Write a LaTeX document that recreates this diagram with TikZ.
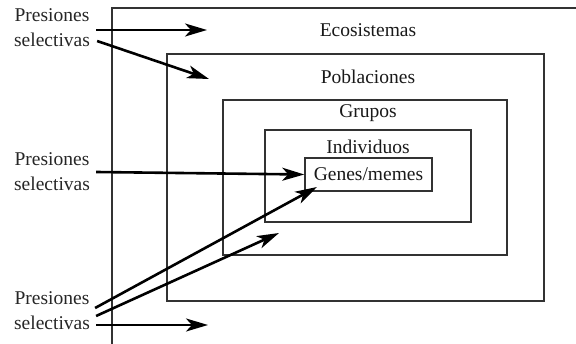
\documentclass[tikz,border=0pt]{standalone}
\usepackage{fontspec}
\setmainfont{Liberation Serif}
\usetikzlibrary{positioning,calc}
\usetikzlibrary{arrows.meta}
\definecolor{BoxGray}{RGB}{50,50,50}
\tikzset{
	caja/.style={draw=BoxGray,line width=1.5pt,rectangle,inner sep=0pt},
	nivel/.style={font=\fontsize{19.5}{24}\selectfont,inner sep=0pt,text=black!90},
	presion/.style={font=\fontsize{19.5}{25}\selectfont,align=center,inner sep=0pt,text=black!85},
	flecha/.style={draw=black,line width=2.6pt,-{Stealth[length=22pt,width=13pt,inset=6pt]}},
}
\begin{document}
\begin{tikzpicture}[x=1pt,y=-1pt]
	\useasboundingbox (0,0) rectangle (576,344);
	% niveles anidados
	\draw[caja] (112,344) -- (112,8) -- (576,8);
	\draw[caja] (167,54) rectangle (544,301);
	\draw[caja] (223,100) rectangle (507,255);
	\draw[caja] (265,130) rectangle (471,222);
	\node[caja,nivel,minimum width=127pt,minimum height=33pt] (genes) at (368.5,174.5) {Genes/memes};
	\node[nivel] (eco) at (368,30) {Ecosistemas};
	\node[nivel] (pobl) at (368,77) {Poblaciones};
	\node[nivel] (grup) at (368,113) {Grupos};
	\node[nivel] (indiv) at (368,147) {Individuos};
	% presiones selectivas
	\node[presion] (ps1) at (52,28) {Presiones\\selectivas};
	\node[presion] (ps2) at (52,172) {Presiones\\selectivas};
	\node[presion] (ps3) at (52,311) {Presiones\\selectivas};
	\coordinate (e1) at (207,30);
	\coordinate (e2) at (209,79);
	\coordinate (e3) at (317,187);
	\coordinate (e4) at (279,233);
	\coordinate (e5) at (208,325);
	\draw[flecha] (ps1.east |- 0,30) ++(6,0) -- (e1);
	\draw[flecha] (ps1.east |- 0,41) ++(7,0) -- (e2);
	\draw[flecha] (ps2.east) ++(6,0) -- (genes.west);
	\draw[flecha] (ps3.east |- 0,308) ++(5,0) -- (e3);
	\draw[flecha] (ps3.east |- 0,316) ++(6,0) -- (e4);
	\draw[flecha] (ps3.east |- 0,325) ++(6,0) -- (e5);
\end{tikzpicture}
\end{document}
